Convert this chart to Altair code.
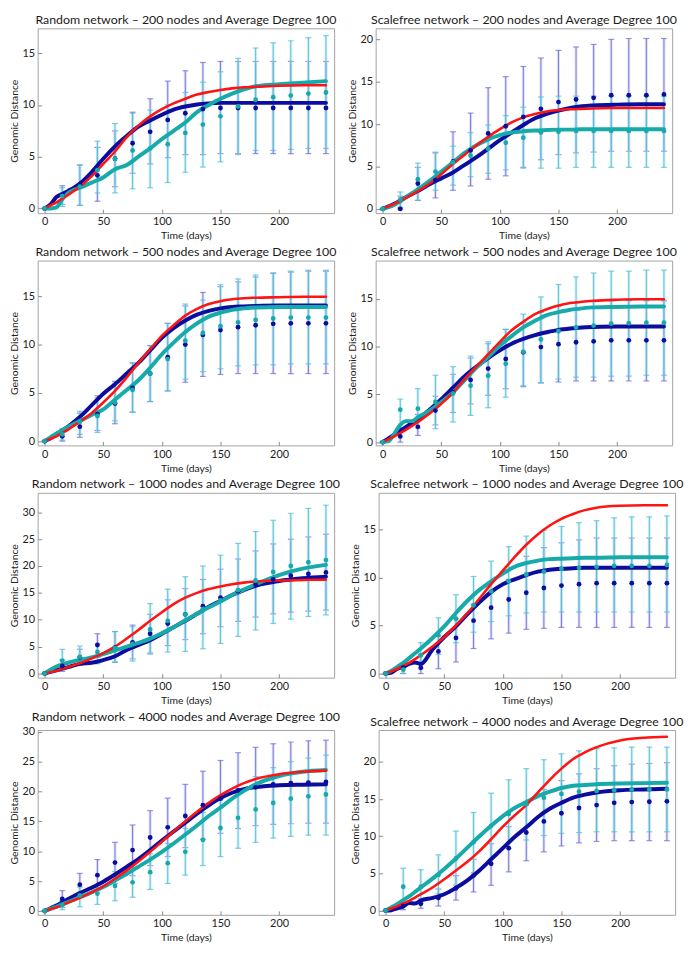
import altair as alt
import pandas as pd

# ---------------- shared grids ----------------
LINE_T = [0, 5, 10, 15, 20, 25, 30, 40, 50, 60, 70, 80, 90, 100, 110, 120, 130, 140, 150, 160, 170, 180, 200, 220, 240]
PT_T = [0, 15, 30, 45, 60, 75, 90, 105, 120, 135, 150, 165, 180, 195, 210, 225, 240]
X_TICKS = [0, 50, 100, 150, 200]

TITLES = [
    "Random network \u2013 200 nodes and Average Degree 100",
    "Scalefree network \u2013 200 nodes and Average Degree 100",
    "Random network \u2013 500 nodes and Average Degree 100",
    "Scalefree network \u2013 500 nodes and Average Degree 100",
    "Random network \u2013 1000 nodes and Average Degree 100",
    "Scalefree network \u2013 1000 nodes and Average Degree 100",
    "Random network \u2013 4000 nodes and Average Degree 100",
    "Scalefree network \u2013 4000 nodes and Average Degree 100",
]

# ---------------- Random 200 ----------------
R200_LB = [0, 0.4, 1.1, 1.4, 1.7, 2.0, 2.4, 3.5, 4.8, 6.0, 7.0, 7.9, 8.5, 9.05, 9.55, 9.85, 10.05, 10.15, 10.2, 10.2, 10.2, 10.2, 10.2, 10.2, 10.2]
R200_LR = [0, 0.3, 0.6, 0.95, 1.3, 1.7, 2.1, 3.1, 4.3, 5.5, 6.9, 8.0, 8.9, 9.6, 10.15, 10.6, 11.0, 11.25, 11.45, 11.6, 11.7, 11.75, 11.85, 11.9, 11.9]
R200_LT = [0, 0, 0.1, 0.9, 1.5, 1.8, 2.0, 2.5, 3.0, 3.8, 4.2, 5.0, 5.8, 6.7, 7.5, 8.3, 9.3, 10.0, 10.6, 11.1, 11.5, 11.8, 12.0, 12.15, 12.3]
R200_PB = [0, 1.3, 2.3, 3.2, 4.8, 6.3, 7.4, 8.55, 9.2, 9.6, 9.7, 9.7, 9.7, 9.7, 9.7, 9.7, 9.7]
R200_PB_LO = [0, 0.4, 0.3, 0.7, 2.1, 3.4, 4.3, 4.9, 5.2, 5.2, 5.3, 5.3, 5.3, 5.3, 5.3, 5.3, 5.3]
R200_PB_HI = [0, 2.2, 4.2, 5.9, 7.5, 9.3, 10.6, 12.3, 13.3, 14.1, 14.2, 14.2, 14.2, 14.2, 14.2, 14.2, 14.2]
R200_PT = [0, 1.2, 2.1, 3.7, 4.8, 5.6, 5.8, 6.2, 7.3, 8.1, 8.9, 9.85, 10.5, 10.75, 10.9, 11.1, 11.2]
R200_PT_LO = [0, 0.2, 0.3, 1.5, 1.5, 1.9, 2.0, 2.5, 3.5, 4.0, 4.5, 5.2, 5.6, 5.6, 5.7, 5.8, 5.8]
R200_PT_HI = [0, 2.0, 4.2, 6.5, 8.2, 9.2, 9.5, 10.0, 11.2, 12.2, 13.2, 14.5, 15.5, 16.0, 16.2, 16.5, 16.7]
R200_YDOM = [-0.45, 17.4]
R200_YTICKS = [0, 5, 10, 15]

# ---------------- Scalefree 200 ----------------
S200_LB = [0, 0.3, 0.6, 1.0, 1.4, 1.75, 2.1, 2.9, 3.6, 4.3, 5.2, 6.1, 7.1, 8.1, 9.0, 9.9, 10.7, 11.2, 11.6, 11.9, 12.1, 12.2, 12.3, 12.35, 12.35]
S200_LR = [0, 0.3, 0.6, 0.95, 1.3, 1.7, 2.1, 3.0, 4.1, 5.3, 6.4, 7.5, 8.5, 9.4, 10.2, 10.8, 11.2, 11.5, 11.65, 11.75, 11.8, 11.85, 11.9, 11.9, 11.9]
S200_LT = [0, 0.2, 0.5, 0.9, 1.4, 1.85, 2.3, 3.3, 4.4, 5.5, 6.6, 7.5, 8.2, 8.7, 9.0, 9.15, 9.25, 9.3, 9.35, 9.35, 9.4, 9.4, 9.4, 9.4, 9.4]
S200_PB = [0, 0.0, 3.0, 3.4, 5.6, 6.9, 8.9, 9.75, 10.85, 11.8, 12.6, 12.9, 13.1, 13.4, 13.4, 13.4, 13.5]
S200_PB_LO = [0, 0, 1.0, 1.3, 2.2, 2.7, 3.5, 3.9, 4.9, 5.8, 6.4, 6.6, 6.7, 6.8, 6.8, 6.8, 6.8]
S200_PB_HI = [0, 1.5, 4.9, 6.6, 9.1, 11.3, 14.3, 15.6, 16.8, 17.8, 18.7, 19.1, 19.4, 20.0, 20.1, 20.1, 20.1]
S200_PT = [0, 1.1, 3.5, 4.4, 5.5, 6.3, 7.1, 7.8, 8.4, 9.0, 9.1, 9.2, 9.2, 9.2, 9.2, 9.2, 9.2]
S200_PT_LO = [0, 0.2, 1.0, 2.2, 2.8, 3.8, 4.2, 4.6, 4.8, 4.8, 4.8, 4.9, 4.9, 4.9, 4.9, 4.9, 4.9]
S200_PT_HI = [0, 2.0, 5.4, 6.7, 7.4, 9.0, 9.9, 11.0, 12.0, 13.2, 13.3, 13.3, 13.3, 13.3, 13.3, 13.3, 13.3]
S200_YDOM = [-0.5, 21.3]
S200_YTICKS = [0, 5, 10, 15, 20]

# ---------------- Random 500 ----------------
R500_LB = [0, 0.3, 0.7, 1.1, 1.5, 2.0, 2.5, 3.7, 4.9, 5.9, 7.0, 8.1, 9.4, 10.7, 11.7, 12.5, 13.1, 13.5, 13.75, 13.9, 13.95, 14.0, 14.05, 14.05, 14.05]
R500_LR = [0, 0.25, 0.5, 0.85, 1.2, 1.6, 2.0, 2.9, 4.0, 5.2, 6.6, 8.1, 9.5, 10.9, 12.0, 13.0, 13.7, 14.2, 14.5, 14.7, 14.8, 14.85, 14.9, 14.95, 14.95]
R500_LT = [0, 0.4, 0.8, 1.1, 1.5, 1.8, 2.1, 2.7, 3.3, 4.3, 5.3, 6.3, 7.6, 9.0, 10.2, 11.3, 12.2, 12.9, 13.3, 13.6, 13.75, 13.85, 13.9, 13.9, 13.9]
R500_PB = [0, 0.5, 1.5, 2.8, 3.9, 5.5, 7.0, 8.7, 10.0, 11.0, 11.5, 11.8, 12.0, 12.15, 12.2, 12.2, 12.2]
R500_PB_LO = [0, 0.0, 0.4, 1.1, 1.8, 3.0, 4.1, 5.2, 6.1, 6.7, 6.9, 7.0, 7.0, 7.0, 7.0, 7.0, 7.0]
R500_PB_HI = [0, 1.2, 2.9, 4.7, 6.2, 8.1, 9.9, 12.2, 14.0, 15.4, 16.0, 16.5, 17.0, 17.4, 17.5, 17.6, 17.6]
R500_PT = [0, 0.7, 2.0, 2.6, 4.0, 5.3, 7.0, 8.5, 10.4, 11.2, 11.9, 12.3, 12.55, 12.7, 12.8, 12.8, 12.8]
R500_PT_LO = [0, 0.1, 0.7, 0.9, 2.1, 3.0, 4.1, 5.2, 6.4, 7.2, 7.5, 7.8, 7.9, 7.9, 8.0, 8.0, 8.0]
R500_PT_HI = [0, 1.3, 3.1, 4.5, 6.0, 8.1, 9.9, 12.2, 14.2, 14.6, 16.2, 16.8, 17.2, 17.4, 17.6, 17.7, 17.7]
R500_YDOM = [-0.44, 18.7]
R500_YTICKS = [0, 5, 10, 15]

# ---------------- Scalefree 500 ----------------
S500_LB = [0, 0.4, 0.8, 1.2, 1.6, 2.0, 2.4, 3.4, 4.5, 5.7, 6.9, 7.9, 8.8, 9.6, 10.3, 10.8, 11.2, 11.5, 11.75, 11.9, 12.0, 12.05, 12.1, 12.1, 12.1]
S500_LR = [0, 0.3, 0.6, 0.95, 1.3, 1.7, 2.1, 3.0, 4.0, 5.2, 6.6, 7.9, 9.2, 10.5, 11.7, 12.6, 13.4, 13.9, 14.3, 14.55, 14.7, 14.8, 14.9, 14.95, 14.95]
S500_LT = [0, 0.1, 0.9, 1.8, 2.2, 2.2, 2.6, 3.3, 4.2, 5.2, 6.5, 7.8, 8.9, 10.1, 11.1, 12.0, 12.7, 13.3, 13.6, 13.85, 14.0, 14.1, 14.15, 14.2, 14.2]
S500_PB = [0, 0.6, 1.6, 3.3, 5.2, 6.5, 7.7, 8.7, 9.4, 9.95, 10.25, 10.45, 10.55, 10.65, 10.65, 10.65, 10.65]
S500_PB_LO = [0, 0.0, 0.7, 1.8, 3.1, 4.0, 4.9, 5.6, 5.8, 6.2, 6.3, 6.4, 6.4, 6.4, 6.4, 6.4, 6.4]
S500_PB_HI = [0, 1.2, 2.9, 4.8, 7.1, 8.8, 10.3, 11.8, 12.5, 13.6, 14.2, 14.6, 14.7, 14.8, 14.8, 14.8, 14.8]
S500_PT = [0, 3.4, 3.5, 4.2, 5.1, 5.9, 6.95, 8.2, 9.45, 10.75, 11.6, 12.0, 12.2, 12.4, 12.45, 12.5, 12.5]
S500_PT_LO = [0, 1.5, 1.5, 1.4, 2.1, 2.8, 3.6, 4.7, 5.9, 6.2, 6.6, 6.8, 6.8, 6.9, 6.9, 7.0, 7.0]
S500_PT_HI = [0, 4.5, 5.6, 7.0, 7.9, 9.0, 10.5, 11.8, 13.4, 15.2, 16.5, 17.3, 17.7, 17.9, 17.9, 18.0, 18.0]
S500_YDOM = [-0.34, 19.0]
S500_YTICKS = [0, 5, 10, 15]

# ---------------- Random 1000 ----------------
R1000_LB = [0, 0.3, 0.6, 0.9, 1.2, 1.5, 1.8, 2.0, 2.5, 3.2, 4.4, 5.3, 6.2, 7.4, 8.6, 9.8, 11.1, 12.4, 13.5, 14.6, 15.5, 16.3, 17.2, 17.7, 18.0]
R1000_LR = [0, 0.25, 0.5, 0.85, 1.2, 1.55, 1.9, 2.8, 3.8, 5.0, 6.5, 8.1, 9.8, 11.4, 12.9, 14.1, 15.0, 15.7, 16.2, 16.6, 16.9, 17.1, 17.3, 17.4, 17.45]
R1000_LT = [0, 0.7, 1.3, 1.7, 2.0, 2.3, 2.5, 3.0, 3.6, 4.3, 5.0, 5.7, 6.5, 7.5, 8.6, 9.9, 11.1, 12.3, 13.4, 14.6, 15.6, 16.6, 18.3, 19.5, 20.2]
R1000_PB = [0, 1.4, 3.0, 5.3, 4.8, 5.8, 7.4, 9.3, 11.0, 12.5, 14.1, 15.3, 16.5, 17.5, 18.2, 18.5, 18.8]
R1000_PB_LO = [0, 0.4, 1.5, 3.0, 2.1, 2.7, 3.8, 5.2, 6.3, 7.4, 8.7, 9.7, 10.5, 11.1, 11.4, 11.6, 11.8]
R1000_PB_HI = [0, 2.5, 4.5, 7.4, 7.8, 9.0, 11.0, 13.7, 15.8, 17.5, 19.4, 21.3, 22.8, 24.1, 25.0, 25.4, 25.9]
R1000_PT = [0, 2.4, 3.1, 4.0, 4.7, 5.5, 8.2, 9.8, 11.0, 12.0, 13.6, 15.5, 17.3, 18.9, 20.0, 20.7, 21.1]
R1000_PT_LO = [0, 0.4, 1.5, 1.8, 2.1, 2.3, 3.6, 4.0, 4.1, 4.6, 5.6, 6.9, 8.1, 9.3, 10.1, 10.6, 10.9]
R1000_PT_HI = [0, 4.5, 5.1, 5.5, 7.8, 8.7, 13.0, 15.7, 18.0, 20.0, 22.0, 24.2, 26.4, 28.5, 29.8, 30.7, 31.3]
R1000_YDOM = [-0.77, 33.6]
R1000_YTICKS = [0, 5, 10, 15, 20, 25, 30]

# ---------------- Scalefree 1000 ----------------
S1000_LB = [0, 0.1, 0.5, 0.7, 1.0, 1.15, 1.0, 2.5, 3.8, 4.9, 6.2, 7.4, 8.5, 9.3, 9.8, 10.25, 10.6, 10.8, 10.9, 10.95, 11.0, 11.0, 11.0, 11.0, 11.0]
S1000_LR = [0, 0.25, 0.5, 0.8, 1.1, 1.5, 1.9, 2.8, 3.8, 5.0, 6.3, 7.8, 9.3, 10.7, 12.1, 13.4, 14.5, 15.4, 16.1, 16.6, 17.0, 17.25, 17.45, 17.5, 17.5]
S1000_LT = [0, 0.3, 0.7, 1.1, 1.6, 2.1, 2.6, 3.7, 4.9, 6.3, 7.6, 8.7, 9.6, 10.4, 11.1, 11.5, 11.75, 11.9, 11.95, 12.0, 12.05, 12.05, 12.1, 12.1, 12.1]
S1000_PB = [0, 0.6, 0.6, 2.3, 3.7, 5.5, 6.85, 7.7, 8.4, 8.9, 9.15, 9.3, 9.4, 9.4, 9.4, 9.4, 9.4]
S1000_PB_LO = [0, 0.0, 0.0, 0.5, 1.2, 2.6, 3.6, 4.2, 4.6, 4.7, 4.8, 4.8, 4.8, 4.8, 4.8, 4.8, 4.8]
S1000_PB_HI = [0, 1.0, 2.0, 3.9, 5.7, 7.2, 8.6, 9.8, 12.2, 13.1, 13.6, 13.9, 14.1, 14.1, 14.1, 14.1, 14.1]
S1000_PT = [0, 0.4, 1.9, 4.0, 5.7, 7.1, 8.55, 9.6, 10.3, 10.6, 10.9, 11.0, 11.1, 11.2, 11.2, 11.2, 11.3]
S1000_PT_LO = [0, 0.0, 0.5, 2.0, 3.2, 4.3, 5.4, 6.0, 6.3, 6.4, 6.4, 6.4, 6.4, 6.4, 6.4, 6.4, 6.4]
S1000_PT_HI = [0, 1.0, 3.2, 5.8, 8.2, 10.1, 11.7, 13.2, 14.3, 14.9, 15.3, 15.7, 15.9, 16.2, 16.3, 16.3, 16.4]
S1000_YDOM = [-0.43, 18.8]
S1000_YTICKS = [0, 5, 10, 15]

# ---------------- Random 4000 ----------------
R4000_LB = [0, 0.45, 0.9, 1.45, 2.0, 2.5, 3.0, 3.9, 4.9, 6.1, 7.4, 8.7, 10.2, 11.8, 13.3, 14.8, 16.3, 17.7, 18.9, 19.8, 20.4, 20.75, 21.05, 21.15, 21.2]
R4000_LR = [0, 0.3, 0.6, 1.0, 1.4, 1.8, 2.2, 3.1, 4.1, 5.4, 6.8, 8.3, 9.9, 11.6, 13.3, 15.0, 16.6, 18.1, 19.4, 20.5, 21.4, 22.1, 22.9, 23.3, 23.5]
R4000_LT = [0, 0.35, 0.7, 1.1, 1.5, 1.9, 2.3, 3.1, 4.0, 5.1, 6.2, 7.4, 8.6, 9.9, 11.3, 12.8, 14.3, 15.9, 17.3, 18.8, 20.1, 21.2, 22.6, 23.3, 23.6]
R4000_PB = [0, 2.0, 4.4, 6.0, 8.1, 10.2, 12.3, 14.0, 15.9, 17.7, 18.8, 20.2, 20.7, 21.2, 21.4, 21.5, 21.6]
R4000_PB_LO = [0, 0.6, 2.5, 3.4, 4.6, 5.9, 7.6, 9.1, 10.6, 12.0, 13.0, 13.8, 14.3, 14.5, 14.6, 14.7, 14.7]
R4000_PB_HI = [0, 3.4, 6.3, 8.6, 11.5, 14.4, 16.8, 18.9, 21.2, 23.4, 25.2, 26.5, 27.4, 28.0, 28.3, 28.5, 28.6]
R4000_PT = [0, 1.0, 2.6, 2.9, 4.2, 4.8, 6.5, 8.0, 9.9, 11.9, 13.9, 15.6, 17.0, 18.1, 18.8, 19.2, 19.5]
R4000_PT_LO = [0, 0.2, 0.7, 1.1, 1.7, 2.3, 3.6, 4.6, 6.0, 7.6, 9.1, 10.5, 11.5, 12.2, 12.5, 12.7, 12.7]
R4000_PT_HI = [0, 1.8, 4.0, 4.3, 6.6, 7.3, 9.6, 11.3, 13.8, 16.5, 18.6, 20.5, 22.5, 24.0, 25.0, 25.6, 26.1]
R4000_YDOM = [-0.65, 30.3]
R4000_YTICKS = [0, 5, 10, 15, 20, 25, 30]

# ---------------- Scalefree 4000 ----------------
S4000_LB = [0, 0.05, 0.3, 0.55, 1.0, 0.95, 1.35, 1.7, 2.2, 3.05, 4.1, 5.4, 6.9, 8.4, 9.9, 11.2, 12.6, 13.7, 14.5, 15.2, 15.6, 15.9, 16.2, 16.3, 16.4]
S4000_LR = [0, 0.3, 0.6, 0.95, 1.3, 1.75, 2.2, 3.1, 4.2, 5.4, 6.6, 8.0, 9.6, 11.3, 12.8, 14.2, 15.9, 17.6, 19.1, 20.4, 21.3, 22.0, 22.9, 23.25, 23.4]
S4000_LT = [0, 0.45, 0.9, 1.4, 1.9, 2.5, 3.1, 4.3, 5.6, 7.0, 8.5, 10.0, 11.4, 12.7, 13.8, 14.6, 15.4, 16.0, 16.5, 16.8, 16.9, 17.0, 17.1, 17.15, 17.2]
S4000_PB = [0, 0.6, 0.9, 1.7, 3.0, 4.7, 6.3, 8.4, 10.5, 12.0, 13.1, 13.8, 14.2, 14.5, 14.6, 14.65, 14.7]
S4000_PB_LO = [0, 0.1, 0.3, 0.6, 1.4, 2.5, 3.4, 5.2, 6.7, 7.9, 8.7, 9.1, 9.3, 9.4, 9.4, 9.4, 9.4]
S4000_PB_HI = [0, 1.0, 1.6, 2.9, 4.7, 6.9, 9.0, 11.3, 14.2, 16.3, 17.5, 18.4, 19.1, 19.5, 19.7, 19.8, 19.9]
S4000_PT = [0, 3.2, 3.2, 4.8, 7.0, 9.2, 11.4, 13.0, 14.3, 15.2, 15.7, 16.0, 16.1, 16.2, 16.3, 16.3, 16.3]
S4000_PT_LO = [0, 1.0, 1.0, 2.3, 3.4, 5.1, 6.9, 8.4, 9.5, 10.1, 10.4, 10.5, 10.6, 10.6, 10.6, 10.6, 10.6]
S4000_PT_HI = [0, 5.7, 5.5, 7.5, 10.7, 13.2, 15.8, 17.6, 19.1, 20.3, 21.1, 21.5, 21.8, 21.9, 22.0, 22.0, 22.0]
S4000_YDOM = [-0.58, 24.3]
S4000_YTICKS = [0, 5, 10, 15, 20]

# ---------------- style ----------------
X_DOMAIN = [-6, 247]
W, H = 300, 187
FONT = "Lato"
BLUE = "#0c0c9e"
TEAL = "#17aaaa"
RED = "#ff1414"
BLUE_BAR = "#6a6ad8"
BLUE_HALO = "#c4c4f2"
TEAL_BAR = "#48bcd4"
TEAL_HALO = "#b0e4ee"


def xenc():
    return alt.X("t:Q", scale=alt.Scale(domain=X_DOMAIN, nice=False, zero=False),
                 axis=alt.Axis(values=X_TICKS, title="Time (days)", offset=-4, tickSize=4,
                               labelPadding=3, titlePadding=4, domain=False))


def yenc(field, dom, ticks):
    return alt.Y(f"{field}:Q", scale=alt.Scale(domain=dom, nice=False, zero=False),
                 axis=alt.Axis(values=ticks, title="Genomic Distance", offset=-4, tickSize=4,
                               labelPadding=3, titlePadding=3, domain=False))


def errbars(t, m, lo, hi, bar, halo, dom, ticks):
    df = pd.DataFrame({"t": t, "m": m, "lo": lo, "hi": hi})
    caps = pd.DataFrame({"t": list(t) + list(t), "v": list(lo) + list(hi)})
    base = alt.Chart(df)
    halo_rule = base.mark_rule(color=halo, strokeWidth=3, opacity=0.55).encode(
        x=xenc(), y=yenc("lo", dom, ticks), y2="hi:Q")
    thin_rule = base.mark_rule(color=bar, strokeWidth=1, opacity=0.85).encode(
        x=xenc(), y=yenc("lo", dom, ticks), y2="hi:Q")
    cap = alt.Chart(caps).mark_tick(orient="horizontal", color=bar, size=6, thickness=1.2,
                                     opacity=0.7).encode(x=xenc(), y=yenc("v", dom, ticks))
    return [halo_rule, thin_rule, cap]


def points(t, m, color, dom, ticks):
    df = pd.DataFrame({"t": t, "m": m})
    return alt.Chart(df).mark_circle(color=color, size=24, opacity=1).encode(
        x=xenc(), y=yenc("m", dom, ticks))


def line(ys, color, width, dom, ticks):
    df = pd.DataFrame({"t": LINE_T, "y": ys})
    return alt.Chart(df).mark_line(color=color, strokeWidth=width, interpolate="monotone",
                                   strokeCap="round", strokeJoin="round").encode(
        x=xenc(), y=yenc("y", dom, ticks))


def panel(title, lb, lr, lt, pb, pb_lo, pb_hi, pt, pt_lo, pt_hi, dom, ticks):
    layers = []
    layers += errbars(PT_T, pb, pb_lo, pb_hi, BLUE_BAR, BLUE_HALO, dom, ticks)
    layers += errbars(PT_T, pt, pt_lo, pt_hi, TEAL_BAR, TEAL_HALO, dom, ticks)
    layers.append(line(lb, BLUE, 4, dom, ticks))
    layers.append(line(lt, TEAL, 4, dom, ticks))
    layers.append(line(lr, RED, 2.6, dom, ticks))
    layers.append(points(PT_T, pb, BLUE, dom, ticks))
    layers.append(points(PT_T, pt, TEAL, dom, ticks))
    return alt.layer(*layers).properties(
        width=W, height=H,
        title=alt.TitleParams(title, fontSize=12.5, font=FONT, fontWeight="normal",
                              color="#1a1a1a", offset=2, anchor="middle"))


p1 = panel(TITLES[0], R200_LB, R200_LR, R200_LT, R200_PB, R200_PB_LO, R200_PB_HI,
           R200_PT, R200_PT_LO, R200_PT_HI, R200_YDOM, R200_YTICKS)
p2 = panel(TITLES[1], S200_LB, S200_LR, S200_LT, S200_PB, S200_PB_LO, S200_PB_HI,
           S200_PT, S200_PT_LO, S200_PT_HI, S200_YDOM, S200_YTICKS)
p3 = panel(TITLES[2], R500_LB, R500_LR, R500_LT, R500_PB, R500_PB_LO, R500_PB_HI,
           R500_PT, R500_PT_LO, R500_PT_HI, R500_YDOM, R500_YTICKS)
p4 = panel(TITLES[3], S500_LB, S500_LR, S500_LT, S500_PB, S500_PB_LO, S500_PB_HI,
           S500_PT, S500_PT_LO, S500_PT_HI, S500_YDOM, S500_YTICKS)
p5 = panel(TITLES[4], R1000_LB, R1000_LR, R1000_LT, R1000_PB, R1000_PB_LO, R1000_PB_HI,
           R1000_PT, R1000_PT_LO, R1000_PT_HI, R1000_YDOM, R1000_YTICKS)
p6 = panel(TITLES[5], S1000_LB, S1000_LR, S1000_LT, S1000_PB, S1000_PB_LO, S1000_PB_HI,
           S1000_PT, S1000_PT_LO, S1000_PT_HI, S1000_YDOM, S1000_YTICKS)
p7 = panel(TITLES[6], R4000_LB, R4000_LR, R4000_LT, R4000_PB, R4000_PB_LO, R4000_PB_HI,
           R4000_PT, R4000_PT_LO, R4000_PT_HI, R4000_YDOM, R4000_YTICKS)
p8 = panel(TITLES[7], S4000_LB, S4000_LR, S4000_LT, S4000_PB, S4000_PB_LO, S4000_PB_HI,
           S4000_PT, S4000_PT_LO, S4000_PT_HI, S4000_YDOM, S4000_YTICKS)

rows = [alt.hconcat(a, b, spacing=8) for a, b in [(p1, p2), (p3, p4), (p5, p6), (p7, p8)]]
chart = alt.vconcat(*rows, spacing=4, padding=0).configure_view(
    stroke="#a3a3a3", strokeWidth=1
).configure_axis(
    labelFont=FONT, titleFont=FONT, labelFontSize=11, titleFontSize=10.5,
    titleFontWeight="normal", labelColor="#222222", titleColor="#222222",
    tickColor="#8a8a8a", grid=False
)

chart.save("out.html", embed_options={"renderer": "svg", "actions": False})
